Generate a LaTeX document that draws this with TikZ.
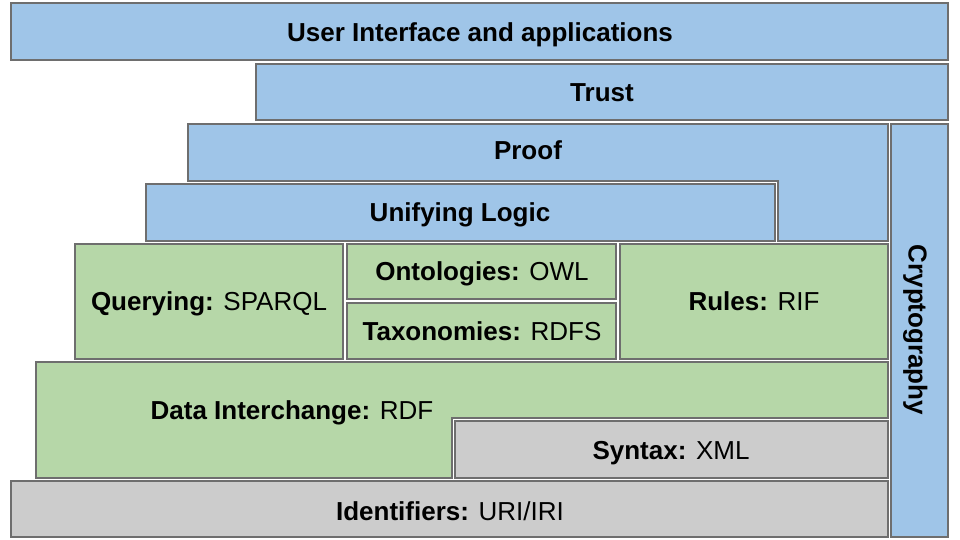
\documentclass[tikz,border=0pt]{standalone}
\usepackage{fontspec}
\setmainfont{Liberation Sans}
\usepackage{tikz}
\definecolor{layerblue}{HTML}{9FC5E8}
\definecolor{layergreen}{HTML}{B6D7A8}
\definecolor{layergray}{HTML}{CCCCCC}
\definecolor{edgegray}{HTML}{6E6E6E}

\begin{document}
\begin{tikzpicture}[x=1pt, y=-1pt,
    layer/.style={draw=edgegray, line width=2pt},
    bluelayer/.style={layer, fill=layerblue},
    greenlayer/.style={layer, fill=layergreen},
    graylayer/.style={layer, fill=layergray},
    label/.style={font=\fontsize{26}{30}\selectfont, inner sep=0pt,
        text height=19pt, text depth=0pt}]
    \useasboundingbox (0, 0) rectangle (960, 540);

    % Top layers
    \draw[bluelayer] (11, 3) rectangle (948, 60);
    \draw[bluelayer] (256, 64) rectangle (948, 120);
    \draw[bluelayer] (188, 124) -- (888, 124) -- (888, 241) -- (778, 241)
        -- (778, 181) -- (188, 181) -- cycle; % Proof (L shape)
    \draw[bluelayer] (146, 184) rectangle (775, 241);
    \draw[bluelayer] (891, 124) rectangle (948, 537); % Cryptography

    % Middle layers
    \draw[greenlayer] (75, 244) rectangle (343, 359);
    \draw[greenlayer] (347, 244) rectangle (616, 299);
    \draw[greenlayer] (347, 303) rectangle (616, 359);
    \draw[greenlayer] (620, 244) rectangle (888, 359);
    \draw[greenlayer] (36, 362) -- (888, 362) -- (888, 418) -- (452, 418)
        -- (452, 478) -- (36, 478) -- cycle; % Data Interchange (L shape)

    % Bottom layers
    \draw[graylayer] (455, 421) rectangle (888, 478);
    \draw[graylayer] (11, 481) rectangle (888, 537);

    % Labels
    \node[label] (ui) at (480, 32) {\textbf{User Interface and applications}};
    \node[label] (trust) at (602, 92) {\textbf{Trust}};
    \node[label] (proof) at (528, 150) {\textbf{Proof}};
    \node[label] (logic) at (460, 212) {\textbf{Unifying Logic}};
    \node[label, rotate=-90] (crypto) at (918, 330) {\textbf{Cryptography}};
    \node[label] (query) at (209, 301) {\textbf{Querying:} SPARQL};
    \node[label] (onto) at (482, 271) {\textbf{Ontologies:} OWL};
    \node[label] (taxo) at (482, 331) {\textbf{Taxonomies:} RDFS};
    \node[label] (rules) at (754, 301) {\textbf{Rules:} RIF};
    \node[label] (rdf) at (292, 410) {\textbf{Data Interchange:} RDF};
    \node[label] (xml) at (671, 450) {\textbf{Syntax:} XML};
    \node[label] (uri) at (450, 511) {\textbf{Identifiers:} URI/IRI};
\end{tikzpicture}
\end{document}
